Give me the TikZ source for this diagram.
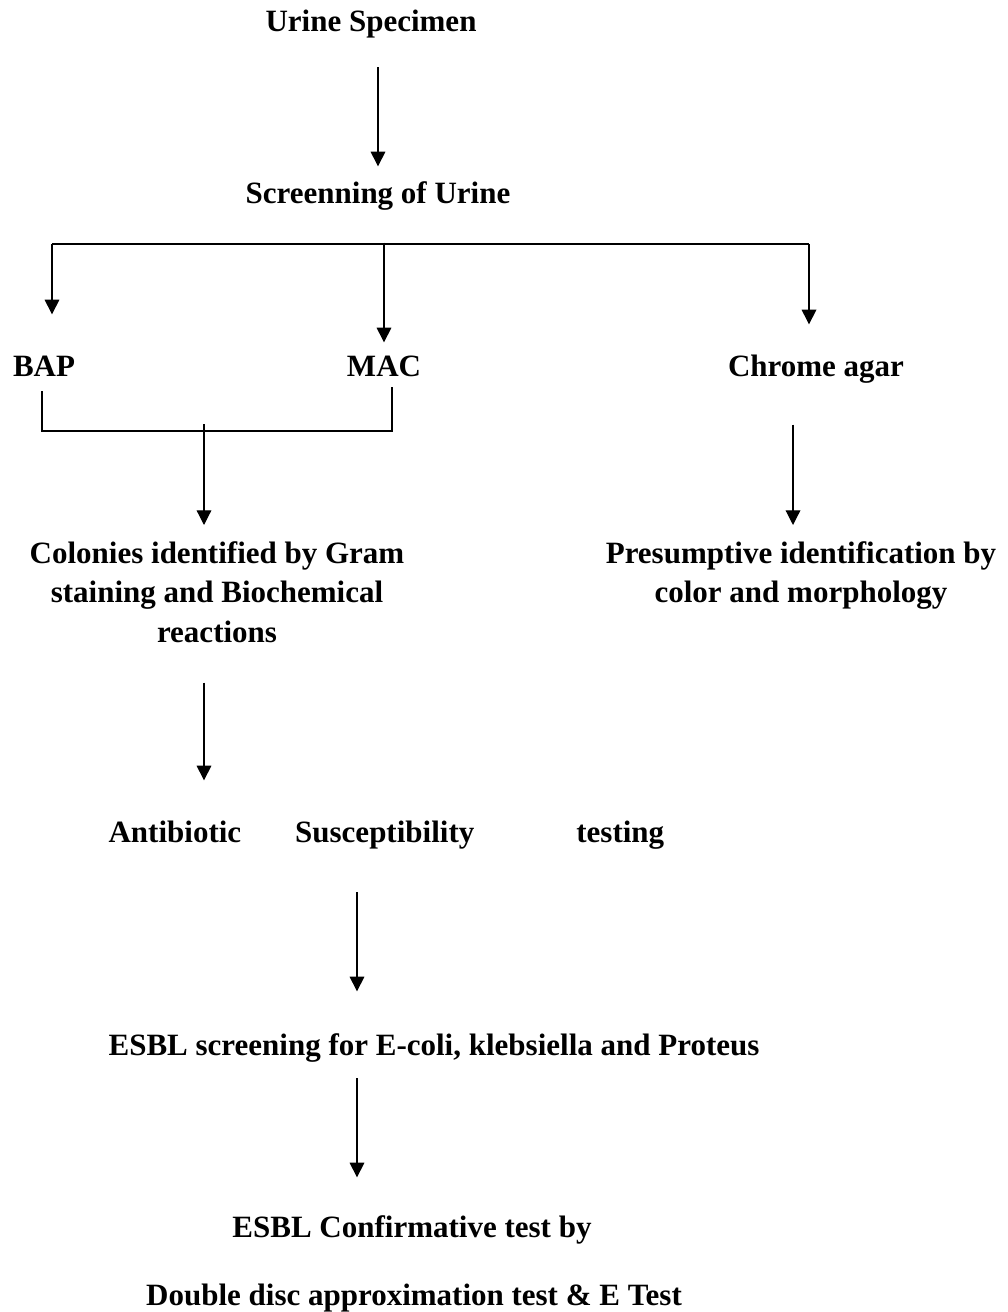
\documentclass[tikz,border=0pt]{standalone}
\usepackage{fontspec}
\setmainfont{Liberation Serif}
\usetikzlibrary{arrows.meta,positioning,calc}
\begin{document}
\begin{tikzpicture}[x=0.75pt,y=-0.75pt,font=\bfseries\fontsize{23.25pt}{29.6pt}\selectfont,line width=0.9pt,>={Triangle[length=11pt,width=11pt]},txt/.style={inner sep=0pt, text height=16.3pt, text depth=5.1pt, anchor=base},txtml/.style={inner sep=0pt, align=center, anchor=north}]
\useasboundingbox (0,0) rectangle (1007,1312);
\node[txt] (urine) at (371,32) {Urine Specimen};
\node[txt] (screen) at (378,204) {Screenning of Urine};
\node[txt] (bap) at (44,376) {BAP};\node[txt] (mac) at (384,376) {MAC};\node[txt] (chrome) at (816,376) {Chrome agar};
\node[txtml] (colonies) at (217,541) {Colonies identified by Gram\\staining and Biochemical\\reactions};
\node[txtml] (presum) at (801,541) {Presumptive identification by\\color and morphology};
\node[txt, anchor=base west] (anti) at (108,842) {Antibiotic\hspace{40.5pt}Susceptibility\hspace{76.5pt}testing};
\node[txt] (esbl) at (434,1055) {ESBL screening for E-coli, klebsiella and Proteus};
\node[txt] (confirm) at (412,1237) {ESBL Confirmative test by};
\node[txt] (ddat) at (414,1305) {Double disc approximation test \& E Test};
\coordinate (fanL) at (52,244);\coordinate (fanR) at (809,244);
\coordinate (brL) at (42,431);\coordinate (brR) at (392,431);\coordinate (brM) at (204,424);\coordinate (spine) at (357,0);
\draw[->, shorten <=21pt, shorten >=11.5pt] (urine.south -| screen) -- (screen.north);
\draw[->, shorten <=23.5pt, shorten >=8.5pt] (screen.south -| mac) -- (mac.north);
\draw (fanL) -- (fanR);\draw[->, shorten >=29.5pt] (fanL) -- (fanL |- bap.north);\draw[->, shorten >=22pt] (fanR) -- (fanR |- chrome.north);
\draw[shorten <=6pt, shorten >=3pt] (brL |- bap.south) -- (brL) -- (brR) -- (brR |- mac.south);
\draw[->, shorten >=12pt] (brM) -- (brM |- colonies.north);
\draw[->, shorten <=31pt, shorten >=12pt] ([xshift=-6pt]chrome.south -| presum) -- ([xshift=-6pt]presum.north);
\draw[->, shorten <=29.5pt, shorten >=29.5pt] (brM |- colonies.south) -- (brM |- anti.north);
\draw[->, shorten <=32pt, shorten >=31pt] (spine |- anti.south) -- (spine |- esbl.north);
\draw[->, shorten <=12pt, shorten >=28pt] (spine |- esbl.south) -- (spine |- confirm.north);
\end{tikzpicture}
\end{document}
